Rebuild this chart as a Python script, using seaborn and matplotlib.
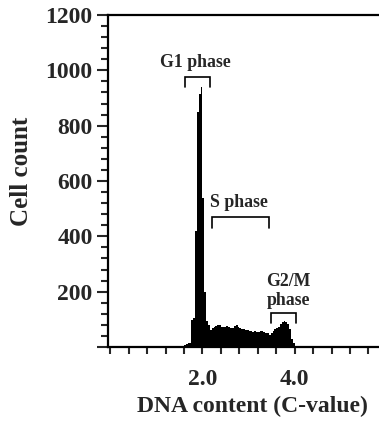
import numpy as np
import pandas as pd
import matplotlib
matplotlib.use("Agg")
import matplotlib.pyplot as plt
import seaborn as sns

# histogram: bins of 0.04 C-value, counts per bin
bin_start = 1.56
bin_width = 0.04
cell_counts = [5, 8, 12, 14, 16, 98, 104, 420, 850, 915, 938, 540, 200, 95, 78, 62,
               67, 73, 75, 80, 78, 73, 71, 73, 75, 73, 67, 69, 75, 78, 73, 69,
               64, 64, 61, 61, 59, 59, 55, 57, 55, 54, 57, 59, 54, 51, 49, 45,
               51, 59, 64, 67, 73, 82, 91, 94, 92, 82, 64, 29, 13, 5, 2]
n_bins = len(cell_counts)
bin_centers = bin_start + bin_width * (np.arange(n_bins) + 0.5)

# phase brackets: label, text position, bracket x-range, bracket top, leg end
phase_labels = ["G1 phase", "S phase", "G2/M\nphase"]
phase_text_xy = [(1.84, 1030), (2.80, 524), (3.87, 203)]
phase_ranges = [(1.63, 2.17), (2.20, 3.44), (3.49, 4.03)]
bracket_top = [977, 469, 122]
bracket_leg = [941, 429, 88]

y_ticks = [0, 200, 400, 600, 800, 1000, 1200]
y_tick_labels = ["", "200", "400", "600", "800", "1000", "1200"]
x_labelled = {2.0: "2.0", 4.0: "4.0"}

df = pd.DataFrame({"dna": bin_centers, "count": cell_counts})

sns.set_style("ticks")
plt.rcParams["font.family"] = ["Liberation Serif", "DejaVu Serif"]
plt.rcParams["font.weight"] = "bold"

fig = plt.figure(figsize=(3.79, 4.24), dpi=100)
ax = fig.add_axes([0.285, 0.1816, 0.760, 0.783])

sns.histplot(data=df, x="dna", weights="count", binwidth=bin_width,
             binrange=(bin_start, bin_start + bin_width * n_bins),
             element="step", fill=True, color="black", alpha=1, linewidth=0, ax=ax)

for lab, (tx, ty), (x0, x1), top, leg in zip(phase_labels, phase_text_xy,
                                              phase_ranges, bracket_top, bracket_leg):
    ax.plot([x0, x0, x1, x1], [leg, top, top, leg], color="black", lw=1.2,
            solid_joinstyle="miter")
    ax.text(tx, ty, lab, ha="center", va="center", fontsize=12.8,
            fontweight="bold", linespacing=1.15)

ax.set_xlim(-0.05, 6.2)
ax.set_ylim(0, 1200)

xt = np.round(np.arange(0, 6.01, 0.4), 1)
ax.set_xticks(xt)
ax.set_xticklabels([x_labelled.get(v, "") for v in xt])
ax.set_yticks(y_ticks)
ax.set_yticklabels(y_tick_labels)
ax.set_yticks(np.arange(0, 1201, 40), minor=True)

ax.tick_params(axis="x", direction="out", length=5, width=1.5, pad=11,
               labelsize=17)
ax.tick_params(axis="y", which="major", direction="out", length=8, width=1.5,
               pad=3, labelsize=17)
ax.tick_params(axis="y", which="minor", direction="out", length=5, width=1.5)

for s in ["left", "bottom", "top", "right"]:
    ax.spines[s].set_linewidth(1.6)
    ax.spines[s].set_color("black")

for lab in ax.get_xticklabels() + ax.get_yticklabels():
    lab.set_fontweight("bold")

ax.set_xlabel("DNA content (C-value)", fontsize=17, fontweight="bold", labelpad=4)
ax.set_ylabel("Cell count", fontsize=18, fontweight="bold")
ax.yaxis.set_label_coords(-0.262, 0.53)

fig.savefig("out.png", dpi=100)
